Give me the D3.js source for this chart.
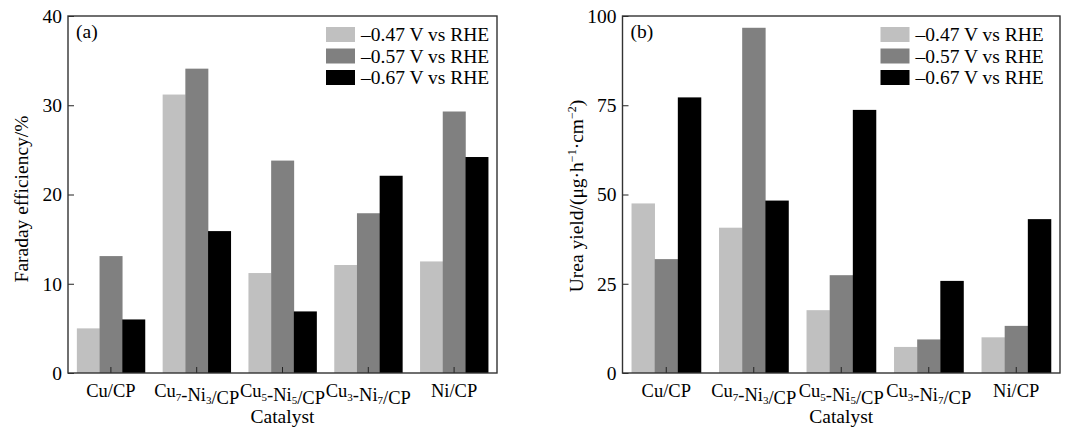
<!DOCTYPE html>
<html>
<head>
<meta charset="utf-8">
<script src="https://cdn.jsdelivr.net/npm/d3@7"></script>
<style>
  body { margin:0; background:#fff; }
  svg text { font-family: "Liberation Serif", "Times New Roman", serif; fill:#000; }
</style>
</head>
<body>
<div id="chart"></div>
<script>
const categories = ["Cu/CP", "Cu7-Ni3/CP", "Cu5-Ni5/CP", "Cu3-Ni7/CP", "Ni/CP"]
const seriesNames = ["–0.47 V vs RHE", "–0.57 V vs RHE", "–0.67 V vs RHE"]
const seriesColors = ["#c0c0c0", "#808080", "#000000"]

// faraday efficiency (%), one array per potential
const fe047 = [5.0, 31.2, 11.2, 12.1, 12.5]
const fe057 = [13.1, 34.1, 23.8, 17.9, 29.3]
const fe067 = [6.0, 15.9, 6.9, 22.1, 24.2]

// urea yield (ug h-1 cm-2)
const uy047 = [47.5, 40.7, 17.6, 7.3, 10.0]
const uy057 = [31.9, 96.7, 27.4, 9.4, 13.2]
const uy067 = [77.2, 48.3, 73.7, 25.8, 43.1]

const feTicks = [0, 10, 20, 30, 40]
const uyTicks = [0, 25, 50, 75, 100]

const W = 1072, H = 431
const fs = 19.5

const svg = d3.select("#chart")
  .append("svg")
    .attr("width", W)
    .attr("height", H)

function subLabel(sel, str){
  // digits in catalyst names are subscripts
  str.split(/(\d)/).forEach(part => {
    if(part === "") return
    if(/\d/.test(part)){
      sel.append("tspan").attr("dy", 3.5).style("font-size", "11px").text(part)
      sel.append("tspan").attr("dy", -3.5).text("")
    } else {
      sel.append("tspan").text(part)
    }
  })
}

function panel(opt){
  const g = svg.append("g")
  const x = d3.scaleBand().domain(categories).range([opt.x0, opt.x1]).padding(0)
  const xs = d3.scaleBand().domain(seriesNames).range([0, x.bandwidth()]).paddingInner(0).paddingOuter(0.39)
  const y = d3.scaleLinear().domain([0, opt.ymax]).range([373, 16])

  const rows = categories.map((c, i) => ({cat: c, vals: opt.series.map((s, j) => ({name: seriesNames[j], v: s[i], col: seriesColors[j]}))}))

  g.selectAll("g.grp")
    .data(rows)
    .enter()
    .append("g")
      .attr("transform", d => "translate(" + x(d.cat) + ",0)")
    .selectAll("rect")
    .data(d => d.vals)
    .enter()
    .append("rect")
      .attr("x", d => xs(d.name))
      .attr("y", d => y(d.v))
      .attr("width", xs.bandwidth() + 0.3)
      .attr("height", d => y(0) - y(d.v))
      .style("fill", d => d.col)

  //y axis
  const gy = g.append("g")
    .attr("transform", "translate(" + opt.x0 + ",0)")
    .call(d3.axisLeft(y).tickValues(opt.ticks).tickSizeInner(-6).tickSizeOuter(0).tickPadding(6))
  gy.select(".domain").remove()
  gy.selectAll("line").attr("stroke", "#222")
  gy.selectAll("text").style("font-size", fs + "px").attr("font-family", null)

  //x axis
  const gx = g.append("g")
    .attr("transform", "translate(0,373)")
    .call(d3.axisBottom(x).tickSizeInner(-6).tickSizeOuter(0).tickFormat(""))
  gx.select(".domain").remove()
  gx.selectAll("line").attr("stroke", "#222")

  categories.forEach(c => {
    const t = g.append("text")
      .attr("x", x(c) + x.bandwidth() / 2)
      .attr("y", 397)
      .attr("text-anchor", "middle")
      .style("font-size", "18.5px")
    subLabel(t, c)
  })

  g.append("text")
    .attr("x", (opt.x0 + opt.x1) / 2)
    .attr("y", 423)
    .attr("text-anchor", "middle")
    .style("font-size", fs + "px")
    .text("Catalyst")

  // frame
  g.append("rect")
    .attr("x", opt.x0)
    .attr("y", 16)
    .attr("width", opt.x1 - opt.x0)
    .attr("height", 357)
    .style("fill", "none")
    .style("stroke", "#333")
    .style("stroke-width", 1.4)

  g.append("text")
    .attr("x", opt.x0 + 8)
    .attr("y", 38)
    .style("font-size", fs + "px")
    .text(opt.tag)

  // legend
  const lg = g.append("g").attr("transform", "translate(" + (opt.x0 + 258) + ",27)")
  seriesNames.forEach((s, i) => {
    lg.append("rect")
      .attr("x", 0)
      .attr("y", i * 21.5)
      .attr("width", 29)
      .attr("height", 15)
      .style("fill", seriesColors[i])
    lg.append("text")
      .attr("x", 35)
      .attr("y", i * 21.5 + 14)
      .style("font-size", fs + "px")
      .text(s)
  })

  const yl = g.append("text")
    .attr("transform", "translate(" + (opt.x0 - 40) + "," + opt.ylabelY + ") rotate(-90)")
    .attr("text-anchor", "middle")
    .style("font-size", fs + "px")
  opt.ylabel(yl)
}

panel({
  x0: 68, x1: 497, ymax: 40, ticks: feTicks, tag: "(a)", ylabelY: 199,
  series: [fe047, fe057, fe067],
  ylabel: t => t.text("Faraday efficiency/%")
})

panel({
  x0: 622.5, x1: 1060, ymax: 100, ticks: uyTicks, tag: "(b)", ylabelY: 196,
  series: [uy047, uy057, uy067],
  ylabel: t => {
    t.append("tspan").text("Urea yield/(μg·h")
    t.append("tspan").attr("dy", -7).style("font-size", "12px").text("−1")
    t.append("tspan").attr("dy", 7).text("·cm")
    t.append("tspan").attr("dy", -7).style("font-size", "12px").text("−2")
    t.append("tspan").attr("dy", 7).text(")")
  }
})
</script>
</body>
</html>
